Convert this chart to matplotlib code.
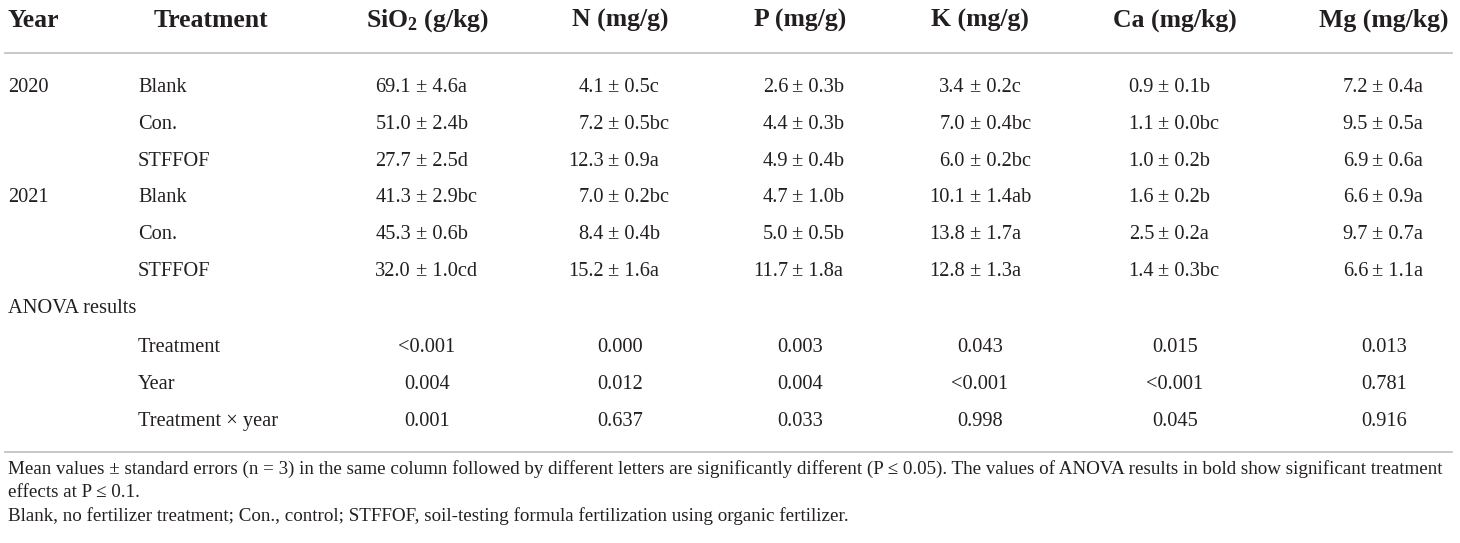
import matplotlib
matplotlib.use("Agg")
import matplotlib.pyplot as plt

plt.rcParams["font.family"] = ["Liberation Serif", "DejaVu Serif"]
plt.rcParams["mathtext.default"] = "regular"

# --- table content ---
headers = ["Year", "Treatment", r"SiO$_2$ (g/kg)", "N (mg/g)", "P (mg/g)",
           "K (mg/g)", "Ca (mg/kg)", "Mg (mg/kg)"]
years = ["2020", "", "", "2021", "", ""]
treatments = ["Blank", "Con.", "STFFOF", "Blank", "Con.", "STFFOF"]

sio2 = ["69.1 ± 4.6a", "51.0 ± 2.4b", "27.7 ± 2.5d", "41.3 ± 2.9bc", "45.3 ± 0.6b", "32.0 ± 1.0cd"]
n_vals = ["4.1 ± 0.5c", "7.2 ± 0.5bc", "12.3 ± 0.9a", "7.0 ± 0.2bc", "8.4 ± 0.4b", "15.2 ± 1.6a"]
p_vals = ["2.6 ± 0.3b", "4.4 ± 0.3b", "4.9 ± 0.4b", "4.7 ± 1.0b", "5.0 ± 0.5b", "11.7 ± 1.8a"]
k_vals = ["3.4 ± 0.2c", "7.0 ± 0.4bc", "6.0 ± 0.2bc", "10.1 ± 1.4ab", "13.8 ± 1.7a", "12.8 ± 1.3a"]
ca_vals = ["0.9 ± 0.1b", "1.1 ± 0.0bc", "1.0 ± 0.2b", "1.6 ± 0.2b", "2.5 ± 0.2a", "1.4 ± 0.3bc"]
mg_vals = ["7.2 ± 0.4a", "9.5 ± 0.5a", "6.9 ± 0.6a", "6.6 ± 0.9a", "9.7 ± 0.7a", "6.6 ± 1.1a"]

anova_terms = ["Treatment", "Year", "Treatment × year"]
anova_p = [
    ["<0.001", "0.000", "0.003", "0.043", "0.015", "0.013"],
    ["0.004", "0.012", "0.004", "<0.001", "<0.001", "0.781"],
    ["0.001", "0.637", "0.033", "0.998", "0.045", "0.916"],
]

footnotes = [
    "Mean values ± standard errors (n = 3) in the same column followed by different letters are significantly different (P ≤ 0.05). "
    "The values of ANOVA results in bold show significant treatment",
    "effects at P ≤ 0.1.",
    "Blank, no fertilizer treatment; Con., control; STFFOF, soil-testing formula fertilization using organic fertilizer.",
]

# --- layout (pixel coordinates) ---
W, H = 1460, 543
col_center = [427, 620, 800, 980, 1175, 1384]
col_anchor = [411, 604, 788, 965, 1154, 1368]   # "±" alignment point
row_y = [85, 122, 159, 195, 232, 269]
anova_y = [345, 382, 419]
INK = "#231f20"
RULE = "#c4c4c4"
FS, FS_HEAD, FS_NOTE = 14.7, 18.5, 13.65

fig = plt.figure(figsize=(W / 100, H / 100), dpi=100)
ax = fig.add_axes([0, 0, 1, 1])
ax.set_xlim(0, W); ax.set_ylim(H, 0); ax.axis("off")

# header
hb = 27
ax.text(8, hb, headers[0], fontsize=FS_HEAD, fontweight="bold", color=INK, va="baseline")
ax.text(211, hb, headers[1], fontsize=FS_HEAD, fontweight="bold", color=INK, va="baseline", ha="center")
for c, h in zip(col_center, headers[2:]):
    ax.text(c, hb, h, fontsize=FS_HEAD, fontweight="bold", color=INK, va="baseline", ha="center")

ax.plot([5, 1452], [53, 53], color=RULE, lw=1.3)
ax.plot([5, 1452], [452, 452], color=RULE, lw=1.3)

# body
columns = [sio2, n_vals, p_vals, k_vals, ca_vals, mg_vals]
for i, y in enumerate(row_y):
    yb = y + 7
    ax.text(8, yb, years[i], fontsize=FS, color=INK, va="baseline")
    ax.text(138, yb, treatments[i], fontsize=FS, color=INK, va="baseline")
    for a, col in zip(col_anchor, columns):
        mean, rest = col[i].split(" ± ")
        ax.text(a, yb, mean, fontsize=FS, color=INK, va="baseline", ha="right")
        ax.text(a + 4.5, yb, "± " + rest, fontsize=FS, color=INK, va="baseline", ha="left")

ax.text(8, 306 + 7, "ANOVA results", fontsize=FS, color=INK, va="baseline")
for term, y, ps in zip(anova_terms, anova_y, anova_p):
    ax.text(138, y + 7, term, fontsize=FS, color=INK, va="baseline")
    for c, p in zip(col_center, ps):
        ax.text(c, y + 7, p, fontsize=FS, color=INK, va="baseline", ha="center")

for y, line in zip([474, 497, 521], footnotes):
    ax.text(8, y, line, fontsize=FS_NOTE, color=INK, va="baseline")

fig.savefig("out.png", dpi=100)
